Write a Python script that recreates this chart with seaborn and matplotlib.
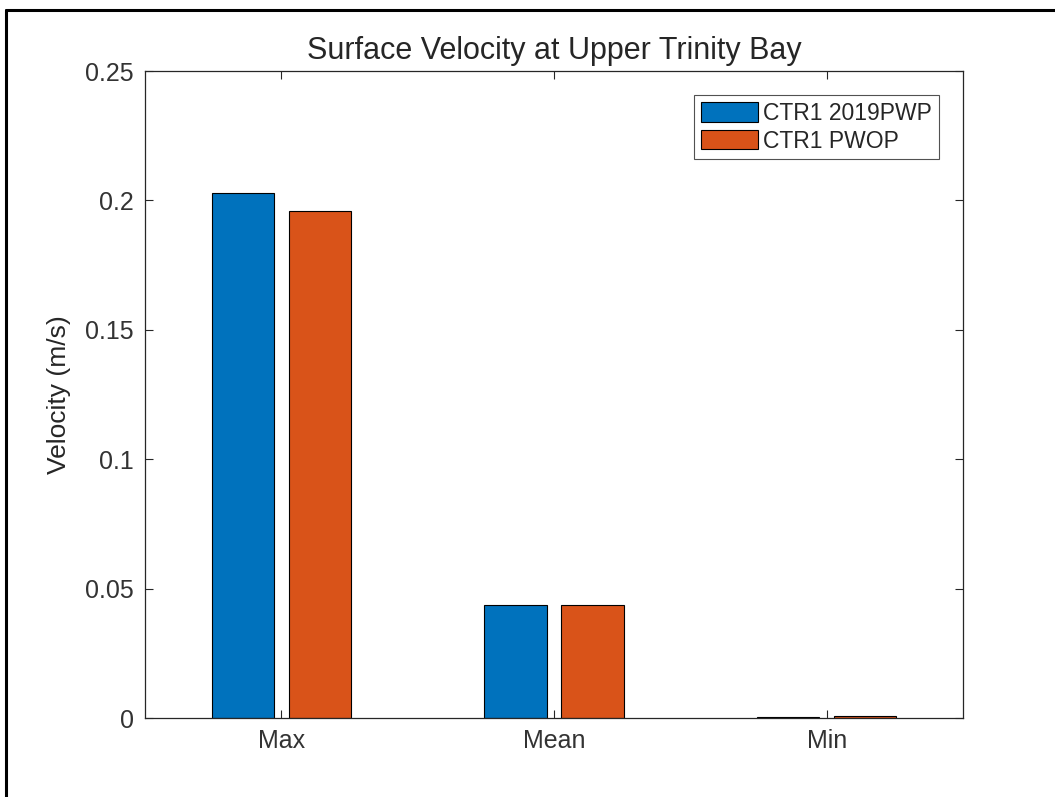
import numpy as np
import pandas as pd
import matplotlib
matplotlib.use("Agg")
import matplotlib.pyplot as plt
from matplotlib.lines import Line2D
import seaborn as sns

# values
stats = ["Max", "Mean", "Min"]
ctr1_2019pwp = [0.2028, 0.0437, 0.0003]
ctr1_pwop = [0.1959, 0.0437, 0.0006]
series_names = ["CTR1 2019PWP", "CTR1 PWOP"]
yticks = [0, 0.05, 0.1, 0.15, 0.2, 0.25]
ytick_labels = ["0", "0.05", "0.1", "0.15", "0.2", "0.25"]

df = pd.DataFrame({
    "stat": stats * 2,
    "velocity": ctr1_2019pwp + ctr1_pwop,
    "run": [series_names[0]] * 3 + [series_names[1]] * 3,
})

sns.set_style("ticks")
plt.rcParams["font.family"] = ["Liberation Sans", "DejaVu Sans"]

fig = plt.figure(figsize=(10.55, 7.97), dpi=100)
ax = fig.add_axes([0.1374, 0.0991, 0.7754, 0.8118])

sns.barplot(data=df, x="stat", y="velocity", hue="run", order=stats,
            hue_order=series_names, palette=["#0072BD", "#D95319"],
            saturation=1, width=0.564, gap=0.19, edgecolor="black",
            linewidth=0.8, errorbar=None, ax=ax)

ax.set_xlim(-0.5, 2.5)
ax.set_ylim(0, 0.25)
ax.set_yticks(yticks)
ax.set_yticklabels(ytick_labels)
ax.set_xlabel("")
ax.set_ylabel("Velocity (m/s)", fontsize=19, color="#262626", labelpad=10)
ax.set_title("Surface Velocity at Upper Trinity Bay", fontsize=22, pad=9)

for side in ["top", "right", "left", "bottom"]:
    ax.spines[side].set_visible(True)
    ax.spines[side].set_color("#262626")
    ax.spines[side].set_linewidth(0.9)
ax.tick_params(direction="in", length=6, width=0.8, color="#262626",
               labelsize=18, labelcolor="#333333",
               top=True, right=True, pad=8)

leg = ax.legend(loc="upper right", fontsize=16.5, frameon=True, fancybox=False,
                handlelength=2.5, handleheight=0.92, handletextpad=0.22,
                borderaxespad=1.05, labelspacing=0.2, borderpad=0.3)
leg.get_frame().set_edgecolor("#262626")
leg.get_frame().set_linewidth(0.8)

# outer frame of the original screenshot (left and top edges)
fig.add_artist(Line2D([0.0057, 0.0057], [0.0, 0.9875], transform=fig.transFigure,
                      color="black", linewidth=2.2))
fig.add_artist(Line2D([0.0057, 1.0], [0.9875, 0.9875], transform=fig.transFigure,
                      color="black", linewidth=2.2))

fig.savefig("out.png", dpi=100)
